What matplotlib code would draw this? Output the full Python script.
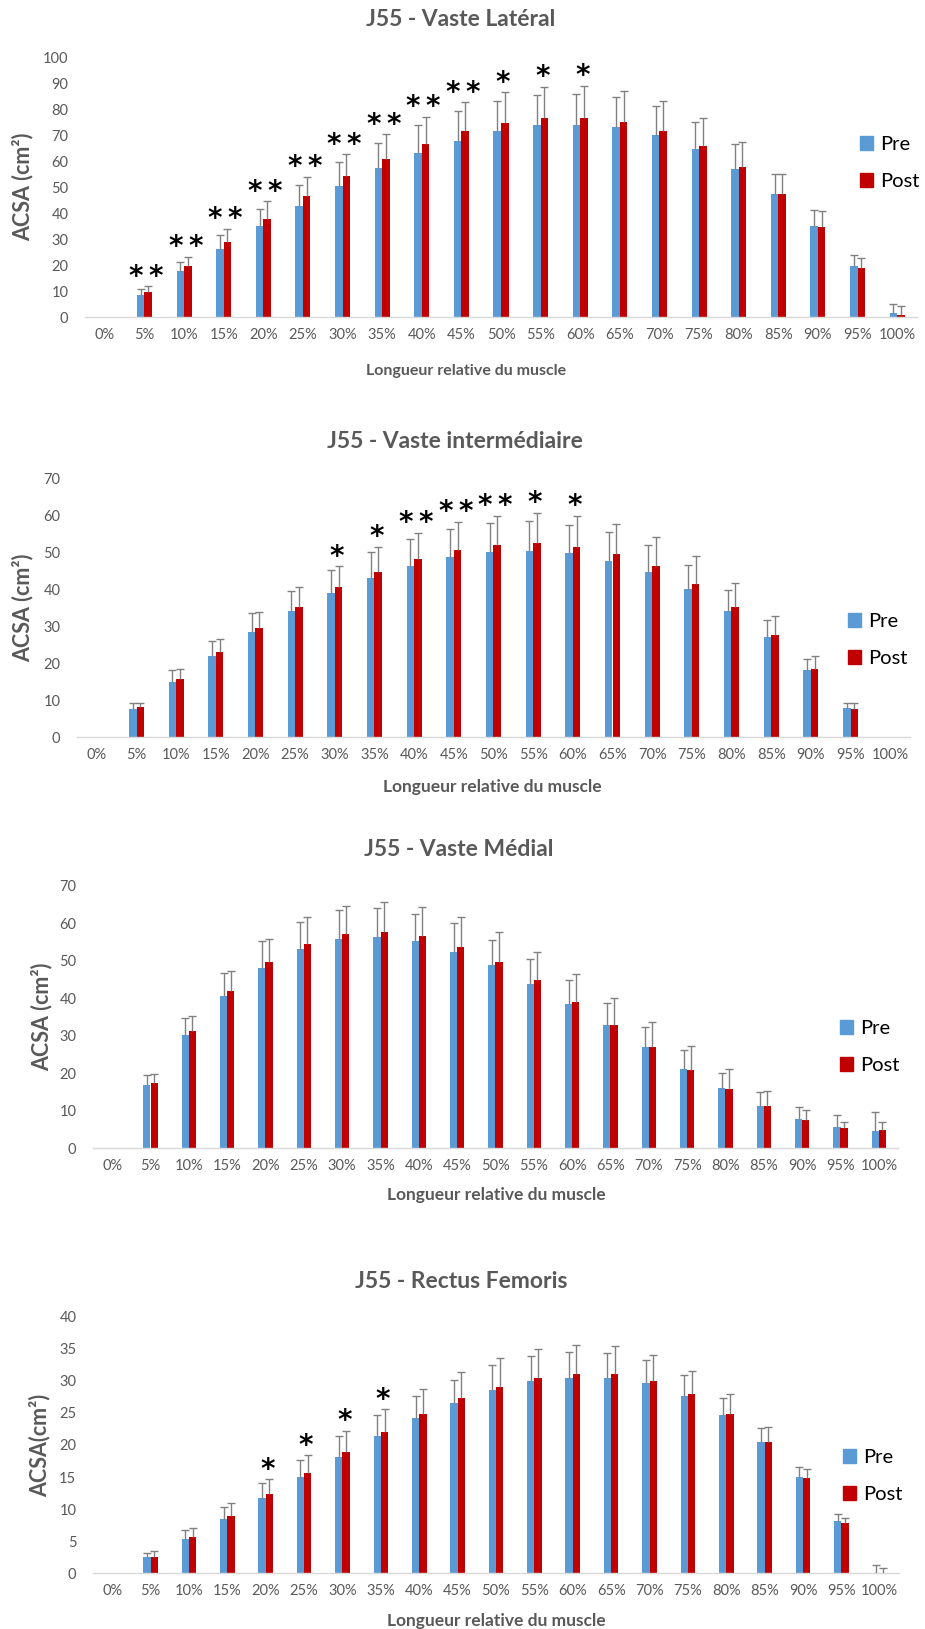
import numpy as np
import matplotlib
matplotlib.use("Agg")
import matplotlib.pyplot as plt
from matplotlib.patches import Patch

plt.rcParams["font.family"] = ["Lato", "DejaVu Sans"]

nan = np.nan

tick_labels = ["0%", "5%", "10%", "15%", "20%", "25%", "30%", "35%", "40%", "45%", "50%",
               "55%", "60%", "65%", "70%", "75%", "80%", "85%", "90%", "95%", "100%"]

# Vaste latéral
vl_pre = [nan, 8.7, 17.7, 26.4, 35.0, 42.9, 50.6, 57.4, 63.2, 67.9, 71.5,
          73.8, 74.1, 73.2, 70.0, 64.7, 57.1, 47.6, 35.0, 19.9, 1.7]
vl_pre_err = [nan, 2.1, 3.7, 5.3, 6.5, 8.0, 9.0, 9.8, 10.6, 11.3, 11.8,
              11.7, 11.9, 11.7, 11.3, 10.6, 9.7, 7.7, 6.3, 3.9, 3.6]
vl_post = [nan, 9.7, 19.7, 28.8, 37.8, 46.5, 54.2, 60.9, 66.7, 71.5, 74.7,
           76.7, 76.7, 75.0, 71.5, 65.8, 57.8, 47.6, 34.6, 19.0, 0.8]
vl_post_err = [nan, 2.2, 3.6, 5.3, 6.8, 7.6, 8.5, 9.5, 10.5, 11.2, 11.8,
               12.0, 12.4, 12.2, 11.8, 10.7, 9.8, 7.7, 6.2, 3.7, 3.4]
vl_sig = ["", "**", "**", "**", "**", "**", "**", "**", "**", "**", "*",
          "*", "*", "", "", "", "", "", "", "", ""]

# Vaste intermédiaire
vi_pre = [nan, 7.6, 15.1, 22.0, 28.5, 34.1, 39.1, 43.1, 46.5, 48.8, 50.3,
          50.5, 49.9, 47.8, 44.7, 40.2, 34.3, 27.1, 18.2, 7.9, -0.2]
vi_pre_err = [nan, 1.8, 3.1, 4.2, 5.1, 5.6, 6.3, 7.1, 7.3, 7.7, 7.9,
              8.1, 7.7, 7.8, 7.3, 6.6, 5.7, 4.6, 3.1, 1.5, nan]
vi_post = [nan, 8.1, 15.8, 23.0, 29.5, 35.4, 40.7, 44.9, 48.3, 50.8, 52.1,
           52.6, 51.7, 49.7, 46.3, 41.6, 35.4, 27.7, 18.5, 7.6, -0.2]
vi_post_err = [nan, 1.3, 2.6, 3.6, 4.5, 5.2, 5.7, 6.8, 7.2, 7.6, 8.0,
               8.3, 8.4, 8.2, 8.0, 7.4, 6.5, 5.2, 3.5, 1.8, nan]
vi_sig = ["", "", "", "", "", "", "*", "*", "**", "**", "**",
          "*", "*", "", "", "", "", "", "", "", ""]

# Vaste médial
vm_pre = [nan, 16.9, 30.2, 40.7, 48.2, 53.1, 55.8, 56.4, 55.3, 52.5, 48.9,
          43.9, 38.6, 32.8, 27.0, 21.2, 16.1, 11.4, 7.9, 5.6, 4.7]
vm_pre_err = [nan, 2.6, 4.7, 6.0, 7.0, 7.4, 7.8, 7.6, 7.3, 7.5, 6.8,
              6.6, 6.3, 5.9, 5.5, 5.1, 4.1, 3.5, 3.0, 3.2, 4.9]
vm_post = [nan, 17.3, 31.3, 42.0, 49.7, 54.6, 57.2, 57.8, 56.7, 53.8, 49.7,
           44.8, 39.1, 33.0, 27.0, 21.0, 15.7, 11.2, 7.5, 5.3, 4.9]
vm_post_err = [nan, 2.4, 4.0, 5.2, 6.2, 7.0, 7.5, 7.8, 7.7, 7.8, 7.9,
               7.7, 7.5, 7.2, 6.8, 6.4, 5.5, 4.2, 2.8, 1.7, 2.2]
vm_sig = [""] * 21

# Rectus femoris
rf_pre = [nan, 2.5, 5.4, 8.5, 11.7, 15.0, 18.2, 21.4, 24.2, 26.5, 28.5,
          29.9, 30.5, 30.5, 29.6, 27.6, 24.6, 20.4, 15.0, 8.1, 0.0]
rf_pre_err = [nan, 0.7, 1.3, 1.8, 2.4, 2.7, 3.2, 3.2, 3.4, 3.7, 3.9,
              4.0, 4.0, 3.8, 3.6, 3.3, 2.8, 2.2, 1.6, 1.1, 1.35]
rf_post = [nan, 2.6, 5.6, 8.9, 12.3, 15.6, 18.9, 22.0, 24.8, 27.3, 29.1,
           30.5, 31.1, 31.0, 30.0, 28.0, 24.9, 20.5, 14.9, 7.9, 0.0]
rf_post_err = [nan, 0.9, 1.5, 2.0, 2.4, 2.8, 3.3, 3.6, 3.9, 4.1, 4.4,
               4.5, 4.5, 4.4, 4.0, 3.6, 3.0, 2.3, 1.4, 0.7, 0.8]
rf_sig = ["", "", "", "", "*", "*", "*", "*", "", "", "",
          "", "", "", "", "", "", "", "", "", ""]

BLUE = "#5B9BD5"
RED = "#C00000"
GREY = "#595959"
ERR = "#808080"

W, H = 925, 1629
fig = plt.figure(figsize=(W / 100, H / 100), dpi=100)

# layout in pixels: axes box (left, right, top, bottom), title, xlabel, ylabel x, legend
panels = [
    dict(title="J55 - Vaste Latéral", pre=vl_pre, pre_err=vl_pre_err, post=vl_post,
         post_err=vl_post_err, sig=vl_sig, ymax=100, ystep=10, ylabel="ACSA (cm²)",
         box=(85, 917, 57.3, 317.3), title_xy=(461, 20), xlab_xy=(466, 371), xlab_size=11.5,
         ylab_x=23, leg_xy=(860, 163)),
    dict(title="J55 - Vaste intermédiaire", pre=vi_pre, pre_err=vi_pre_err, post=vi_post,
         post_err=vi_post_err, sig=vi_sig, ymax=70, ystep=10, ylabel="ACSA (cm²)",
         box=(77, 910, 479, 737.3), title_xy=(455, 442), xlab_xy=(492, 787), xlab_size=12.5,
         ylab_x=23, leg_xy=(848, 640)),
    dict(title="J55 - Vaste Médial", pre=vm_pre, pre_err=vm_pre_err, post=vm_post,
         post_err=vm_post_err, sig=vm_sig, ymax=70, ystep=10, ylabel="ACSA (cm²)",
         box=(93, 898, 886, 1148.3), title_xy=(459, 849), xlab_xy=(496, 1195), xlab_size=12.5,
         ylab_x=41.7, leg_xy=(840, 1047)),
    dict(title="J55 - Rectus Femoris", pre=rf_pre, pre_err=rf_pre_err, post=rf_post,
         post_err=rf_post_err, sig=rf_sig, ymax=40, ystep=5, ylabel="ACSA(cm²)",
         box=(93, 899, 1316.7, 1573.3), title_xy=(461, 1282), xlab_xy=(496, 1621), xlab_size=12.5,
         ylab_x=40, leg_xy=(843, 1476)),
]

x = np.arange(len(tick_labels))
bw = 0.19

for p in panels:
    l, r, t, b = p["box"]
    ax = fig.add_axes([l / W, 1 - b / H, (r - l) / W, (b - t) / H])

    pre = np.array(p["pre"])
    post = np.array(p["post"])
    pre_err = np.array(p["pre_err"])
    post_err = np.array(p["post_err"])

    bars1 = ax.bar(x - bw / 2, pre, bw, color=BLUE, label="Pre", zorder=2)
    bars2 = ax.bar(x + bw / 2, post, bw, color=RED, label="Post", zorder=2)
    for bar in list(bars1) + list(bars2):
        bar.set_clip_on(False)

    # upper error bars only
    for xs, ys, es in [(x - bw / 2, pre, pre_err), (x + bw / 2, post, post_err)]:
        ax.vlines(xs, ys, ys + es, color=ERR, lw=1, zorder=3)
        ax.plot(xs, ys + es, ls="none", marker="_", ms=6, mew=1, color=ERR, zorder=3)

    tops = np.fmax(pre + np.nan_to_num(pre_err), post + np.nan_to_num(post_err))
    for xi, top, s in zip(x, tops, p["sig"]):
        if s:
            ax.annotate(s.replace("**", "*\u2009*"), (xi + 0.05, top), xytext=(0, 1),
                        textcoords="offset points", ha="center", va="baseline",
                        fontsize=20, fontweight="bold", family="DejaVu Sans", color="black")

    ax.set_xlim(-0.5, len(x) - 0.5)
    ax.set_ylim(0, p["ymax"])
    ax.set_yticks(np.arange(0, p["ymax"] + 0.1, p["ystep"]))
    ax.set_xticks(x)
    ax.set_xticklabels(tick_labels)
    ax.tick_params(axis="both", length=0, labelsize=10.5, labelcolor=GREY)
    ax.tick_params(axis="y", pad=12)
    ax.tick_params(axis="x", pad=8)
    for side in ["top", "right", "left"]:
        ax.spines[side].set_visible(False)
    ax.spines["bottom"].set_color("#D9D9D9")
    ax.spines["bottom"].set_linewidth(1)

    ax.set_ylabel(p["ylabel"], fontsize=15.5, fontweight="bold", color=GREY, va="center")
    ax.yaxis.set_label_coords(p["ylab_x"] / W, 1 - (t + b) / 2 / H, transform=fig.transFigure)
    ax.set_xlabel("Longueur relative du muscle", fontsize=p["xlab_size"], fontweight="bold",
                  color=GREY, va="center")
    ax.xaxis.set_label_coords(p["xlab_xy"][0] / W, 1 - p["xlab_xy"][1] / H,
                              transform=fig.transFigure)

    fig.text(p["title_xy"][0] / W, 1 - p["title_xy"][1] / H, p["title"], ha="center",
             va="center", fontsize=16.5, fontweight="bold", color=GREY)

    handles = [Patch(color=BLUE), Patch(color=RED)]
    ax.legend(handles, ["Pre", "Post"], loc="center left",
              bbox_to_anchor=(p["leg_xy"][0] / W, 1 - p["leg_xy"][1] / H),
              bbox_transform=fig.transFigure, frameon=False, fontsize=14.5,
              handlelength=0.65, handleheight=0.7, handletextpad=0.35,
              labelspacing=1.0, borderpad=0, borderaxespad=0)

fig.savefig("out.png", dpi=100)
